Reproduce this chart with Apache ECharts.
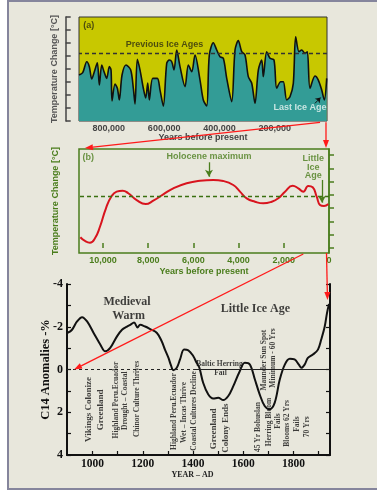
<!DOCTYPE html>
<html><head><meta charset="utf-8">
<script src="https://cdn.jsdelivr.net/npm/echarts@6/dist/echarts.min.js"></script>
<style>html,body{margin:0;padding:0;background:#fff;}#c{width:377px;height:493px;}</style>
</head><body><div id="c"></div>
<script>
// ---------- Panel (a): last ~900,000 years ----------
const iceYears = [908000, 894500, 880000, 870600, 862000, 852500, 841700, 834400, 825800, 817400, 807700, 798300, 792100, 788500, 777700, 769300, 762100, 752300, 737900, 720900, 711500, 705300, 697000, 687200, 675300, 666600, 659400, 653600, 641300, 624700, 614900, 603000, 590700, 581300, 572600, 564300, 554500, 542600, 524500, 512500, 500200, 488300, 470200, 458300, 446000, 436600, 422100, 409800, 397900, 385900, 373600, 355600, 343600, 331700, 319400, 307400, 295500, 283200, 271300, 259300, 247000, 241300, 229000, 217000, 202600, 192800, 178300, 168900, 156600, 144700, 132700, 124100, 112100, 102400, 90400, 82100, 72300, 54300, 42300, 30000, 20600, 11900];
const iceTemp = [3.54, 3.72, 4.56, 4.18, 3.23, 3.79, 4.48, 2.77, 4.31, 3.79, 3.28, 4.18, 3.92, 1.54, 2.85, 2.52, 1.62, 3.54, 4.31, 3.92, 2.52, 1.31, 4.75, 3.92, 2.52, 1.77, 2.92, 1.62, 3.28, 3.28, 2.38, 1.15, 4.44, 4.69, 4.56, 3.92, 5.46, 4.18, 2.64, 4.31, 3.79, 5.08, 3.15, 1.62, 1.15, 5.08, 6.02, 5.46, 4.95, 4.82, 3.28, 1.48, 5.46, 6.18, 5.33, 5.08, 3.41, 2.9, 1.36, 3.92, 4.69, 3.41, 5.33, 4.82, 4.69, 2.52, 3.02, 3.02, 1.62, 1.87, 2.9, 6.48, 5.33, 5.46, 5.21, 5.33, 2.52, 3.46, 3.15, 2.38, 1.62, 3.28];
const iceRefLevel = 5.23;
const iceTickValues = [200000, 400000, 600000, 800000];

// ---------- Panel (b): Holocene ----------
const holoYears = [11000, 10796, 10575, 10354, 10133, 9867, 9615, 9394, 9128, 8881, 8509, 8111, 7774, 7332, 6889, 6296, 5708, 5119, 4677, 4235, 3938, 3642, 3274, 2907, 2535, 2243, 1947, 1606, 1358, 1137, 916, 721, 544, 398, 221, 30];
const holoTemp = [0.81, 0.53, 0.40, 0.73, 1.60, 2.99, 3.91, 4.24, 4.31, 4.12, 3.61, 3.31, 3.56, 4.04, 4.49, 4.87, 5.06, 5.12, 5.04, 4.74, 4.24, 3.74, 3.48, 3.36, 3.48, 3.74, 4.24, 4.69, 4.49, 4.24, 4.67, 4.57, 3.86, 3.24, 3.16, 3.31];
const holoRefLevel = 3.91;
const holoLabelValues = [0, 2000, 4000, 6000, 8000, 10000];
const holoTickValues = [2000, 4000, 6000, 8000, 10000];

// ---------- Panel (c): C14 anomalies, AD ----------
const adYears = [900, 918, 938, 958, 978, 1004, 1031, 1050, 1070, 1097, 1117, 1137, 1150, 1165, 1179, 1189, 1209, 1229, 1256, 1275, 1288, 1302, 1312, 1321, 1335, 1348, 1364, 1381, 1401, 1414, 1425, 1440, 1460, 1480, 1500, 1520, 1540, 1560, 1583, 1606, 1626, 1646, 1665, 1685, 1705, 1725, 1745, 1765, 1785, 1804, 1821, 1831, 1844, 1857, 1877, 1897, 1910, 1924, 1933, 1941];
const c14 = [-1.71, -1.86, -2.25, -2.45, -2.25, -1.71, -1.16, -0.85, -1.01, -1.55, -1.86, -2.01, -2.09, -2.20, -1.97, -2.09, -2.01, -1.89, -1.71, -1.32, -0.93, -0.54, -0.19, 0.03, -0.08, -0.47, -0.93, -0.90, -0.62, -0.31, -0.08, 0.62, 1.16, 1.36, 1.32, 1.43, 1.24, 0.78, 0.15, -0.31, -0.23, 0.47, 1.16, 1.71, 1.86, 1.55, 0.47, -0.23, -0.50, -0.47, -0.23, -0.08, -0.23, -0.54, -0.70, -0.93, -1.40, -2.01, -2.64, -3.07];
const adLabelValues = [1000, 1200, 1400, 1600, 1800];
const adTickValues = [1000, 1100, 1200, 1300, 1400, 1500, 1600, 1700, 1800, 1900];
const c14LabelValues = [-4, -2, 0, 2, 4];

// ---------- Annotation texts (data coordinates) ----------
const notesA = [['(a)', 893000, 7.38], ['Previous Ice Ages', 598600, 5.92]];
const notesAWhite = [['Last Ice Age', 108500, 1.05]];
const notesB = [['(b)', 10900, 6.8], ['Holocene maximum', 5310, 6.85], ['Little', 695, 6.75], ['Ice', 695, 6.07], ['Age', 695, 5.42]];
const notesCBig = [['Medieval', 1137, -3.17], ['Warm', 1143, -2.50], ['Little Ice Age', 1648, -2.82]];
const notesCVertBig = [['Vikings Colonize', 983, 1.87], ['Greenland', 1033, 1.89], ['Greenland', 1482, 2.78], ['Colony Ends', 1529, 2.74]];
const notesCVertSmall = [['Highland Peru.Ecuador', 1093, 1.43], ['Drought – Coastal', 1129, 1.46], ['Chinor Culture Thrives', 1175, 1.38], ['Highland Peru.Ecuador', 1324, 1.97], ['Wet – Incas Thrive', 1365, 2.01], ['Coastal Cultures Decline', 1405, 1.94], ['45 Yr Bohuslan', 1658, 2.69], ['Maunder Sun Spot', 1681, -0.44], ['Herring Bloom', 1701, 2.46], ['Minimum - 60 Yrs', 1720, -0.54], ['Fails', 1740, 2.41], ['Blooms 62 Yrs', 1775, 2.52], ['Fails', 1815, 2.55], ['70 Yrs', 1852, 2.68]];
const notesCSmall = [['Baltic Herring', 1505, -0.26], ['Fail', 1509, 0.18]];

// Connector arrows: [fromGrid, fromPoint, toGrid, toPoint]
const connectors = [
  [0, [36000, -0.1], 1, [10796, 7.52]],
  [0, [14500, -0.1], 1, [133, 7.52]],
  [1, [1137, -0.45], 2, [926, 0]],
  [1, [110, -0.38], 2, [1935, -3.25]]
];

const SANS = 'Liberation Sans, Arial, sans-serif';
const SERIF = 'Liberation Serif, Times New Roman, serif';
const GREEN = '#4a7d1c';
const GRAYTXT = '#444444';
const comma = v => Math.round(v).toLocaleString('en-US');
const plain = v => String(Math.round(v));
const zip = (a, b) => a.map((x, i) => [x, b[i]]);

function textSeries(gi, items, lab) {
  return {
    type: 'scatter', xAxisIndex: gi, yAxisIndex: gi, symbolSize: 0, silent: true, z: 6,
    label: Object.assign({show: true, position: 'inside', formatter: '{b}'}, lab),
    data: items.map(t => ({name: t[0], value: [t[1], t[2]]}))
  };
}

const chart = echarts.init(document.getElementById('c'));
const frame = {id: 'frame', type: 'rect', z: -100, silent: true,
  shape: {x: 8, y: 1, width: 420, height: 488},
  style: {fill: '#e8e7dc', stroke: '#85859c', lineWidth: 2}};

const option = {
  backgroundColor: '#ffffff',
  animation: false,
  grid: [
    {left: 79, top: 17, width: 248, height: 104, show: true, backgroundColor: '#c8c800', borderColor: '#333', borderWidth: 1},
    {left: 79, top: 149, width: 250, height: 104, show: true, backgroundColor: 'transparent', borderColor: GREEN, borderWidth: 1.5},
    {left: 67, top: 284, width: 263, height: 171, show: false}
  ],
  xAxis: [
    {gridIndex: 0, type: 'value', inverse: true, min: 10850, max: 908000,
      axisLine: {show: false}, splitLine: {show: false},
      axisTick: {inside: true, length: 4, customValues: iceTickValues, lineStyle: {color: '#333'}},
      axisLabel: {customValues: iceTickValues, formatter: comma, color: GRAYTXT, fontFamily: SANS, fontWeight: 'bold', fontSize: 9, margin: 3},
      name: 'Years before present', nameLocation: 'middle', nameGap: 12.5, nameMoveOverlap: false,
      nameTextStyle: {color: GRAYTXT, fontFamily: SANS, fontWeight: 'bold', fontSize: 9}},
    {gridIndex: 1, type: 'value', inverse: true, min: 0, max: 11060,
      axisLine: {show: false}, splitLine: {show: false},
      axisTick: {inside: true, length: 5, customValues: holoTickValues, lineStyle: {color: GREEN, width: 1.5}},
      axisLabel: {customValues: holoLabelValues, formatter: comma, color: GREEN, fontFamily: SANS, fontWeight: 'bold', fontSize: 9, margin: 3},
      name: 'Years before present', nameLocation: 'middle', nameGap: 14, nameMoveOverlap: false,
      nameTextStyle: {color: GREEN, fontFamily: SANS, fontWeight: 'bold', fontSize: 9}},
    {gridIndex: 2, type: 'value', min: 898, max: 1945,
      axisLine: {show: true, onZero: false, lineStyle: {color: '#111', width: 2}}, splitLine: {show: false},
      axisTick: {inside: true, length: 4, customValues: adTickValues, lineStyle: {color: '#111', width: 1.2}},
      axisLabel: {customValues: adLabelValues, formatter: plain, color: '#111', fontFamily: SERIF, fontWeight: 'bold', fontSize: 11.5, margin: 3},
      name: 'YEAR – AD', nameLocation: 'middle', nameGap: 16, nameMoveOverlap: false,
      nameTextStyle: {color: '#222', fontFamily: SERIF, fontWeight: 'bold', fontSize: 8, padding: [0, 12, 0, 0]}}
  ],
  yAxis: [
    {gridIndex: 0, type: 'value', min: 0, max: 8, interval: 1, offset: 13.3,
      axisLine: {show: true, lineStyle: {color: '#444', width: 1.5}}, splitLine: {show: false},
      axisTick: {show: true, inside: true, length: 5, lineStyle: {color: '#444', width: 1.5}},
      axisLabel: {show: false},
      name: 'Temperature Change [°C]', nameLocation: 'middle', nameGap: 7, nameMoveOverlap: false,
      nameTextStyle: {color: '#555', fontFamily: SANS, fontWeight: 'bold', fontSize: 9}},
    {gridIndex: 1, type: 'value', min: -0.376, max: 7.45, offset: 12.3,
      axisLine: {show: true, lineStyle: {color: GREEN, width: 1.5}}, splitLine: {show: false},
      axisTick: {show: true, inside: true, length: 5, customValues: [0, 1, 2, 3, 4, 5, 6, 7], lineStyle: {color: GREEN, width: 1.5}},
      axisLabel: {show: false},
      name: 'Temperature Change [°C]', nameLocation: 'middle', nameGap: 7, nameMoveOverlap: false,
      nameTextStyle: {color: GREEN, fontFamily: SANS, fontWeight: 'bold', fontSize: 9}},
    {gridIndex: 2, type: 'value', min: -4, max: 4, interval: 1, inverse: true,
      axisLine: {show: true, onZero: false, lineStyle: {color: '#111', width: 2}}, splitLine: {show: false},
      axisTick: {show: true, inside: true, length: 4, lineStyle: {color: '#111', width: 1.2}},
      axisLabel: {customValues: c14LabelValues, color: '#111', fontFamily: SERIF, fontWeight: 'bold', fontSize: 12, margin: 4},
      name: 'C14 Anomalies -%', nameLocation: 'middle', nameGap: 15, nameMoveOverlap: false,
      nameTextStyle: {color: '#111', fontFamily: SERIF, fontWeight: 'bold', fontSize: 12.5}},
    {gridIndex: 2, type: 'value', min: -4, max: 4, interval: 1, inverse: true, position: 'right',
      axisLine: {show: true, onZero: false, lineStyle: {color: '#111', width: 2}}, splitLine: {show: false},
      axisTick: {show: true, inside: true, length: 4, lineStyle: {color: '#111', width: 1.2}},
      axisLabel: {show: false}}
  ],
  series: [
    {type: 'line', xAxisIndex: 0, yAxisIndex: 0, data: zip(iceYears, iceTemp), symbol: 'none', smooth: 0.3,
      lineStyle: {color: '#111', width: 1.6}, areaStyle: {color: '#339c96', opacity: 1}, z: 3,
      markLine: {silent: true, symbol: 'none', label: {show: false},
        data: [
          {yAxis: iceRefLevel, lineStyle: {color: '#333', type: [4, 3], width: 1.3}},
          [{coord: [54300, 1.36], symbol: 'none'}, {coord: [34000, 1.80], symbol: 'arrow', symbolSize: 5, lineStyle: {color: '#111', type: 'solid', width: 1}}]
        ]}},
    textSeries(0, notesA, {color: '#2e2e10', fontFamily: SANS, fontWeight: 'bold', fontSize: 9}),
    textSeries(0, notesAWhite, {color: '#eef7f5', fontFamily: SANS, fontWeight: 'bold', fontSize: 9}),
    {type: 'line', xAxisIndex: 1, yAxisIndex: 1, data: zip(holoYears, holoTemp), symbol: 'none', smooth: true,
      lineStyle: {color: '#d8141e', width: 2}, z: 4,
      markLine: {silent: true, symbol: 'none', label: {show: false},
        data: [
          {yAxis: holoRefLevel, lineStyle: {color: '#3a7010', type: [4, 3], width: 1.3}},
          [{coord: [5310, 6.45], symbol: 'none'}, {coord: [5310, 5.36], symbol: 'arrow', symbolSize: [6, 7], lineStyle: {color: GREEN, type: 'solid', width: 1.3}}],
          [{coord: [310, 5.12], symbol: 'none'}, {coord: [310, 3.41], symbol: 'arrow', symbolSize: [6, 7], lineStyle: {color: GREEN, type: 'solid', width: 1.3}}]
        ]}},
    textSeries(1, notesB, {color: GREEN, fontFamily: SANS, fontWeight: 'bold', fontSize: 9}),
    {type: 'line', xAxisIndex: 2, yAxisIndex: 2, data: zip(adYears, c14), symbol: 'none', smooth: 0.35,
      lineStyle: {color: '#111', width: 2}, z: 4,
      markLine: {silent: true, symbol: 'none', label: {show: false},
        data: [
          [{coord: [898, 0], lineStyle: {color: '#222', type: [3, 3], width: 1}}, {coord: [1400, 0]}],
          [{coord: [1400, 0], lineStyle: {color: '#222', type: 'solid', width: 1}}, {coord: [1945, 0]}]
        ]}},
    textSeries(2, notesCBig, {color: '#111', fontFamily: SERIF, fontWeight: 'bold', fontSize: 12}),
    textSeries(2, notesCVertBig, {color: '#111', fontFamily: SERIF, fontWeight: 'bold', fontSize: 9, rotate: 90}),
    textSeries(2, notesCVertSmall, {color: '#111', fontFamily: SERIF, fontWeight: 'bold', fontSize: 7.5, rotate: 90}),
    textSeries(2, notesCSmall, {color: '#111', fontFamily: SERIF, fontWeight: 'bold', fontSize: 7.5})
  ],
  graphic: [frame]
};
// left-align the "(a)" and "(b)" tags
option.series[1].data[0].label = {align: 'left'};
option.series[4].data[0].label = {align: 'left'};

chart.setOption(option);

// connector arrows between panels, placed through the grids' scales
const els = [frame];
connectors.forEach((c, i) => {
  const p0 = chart.convertToPixel({gridIndex: c[0]}, c[1]);
  const p1 = chart.convertToPixel({gridIndex: c[2]}, c[3]);
  const dx = p1[0] - p0[0], dy = p1[1] - p0[1];
  const len = Math.hypot(dx, dy), ux = dx / len, uy = dy / len;
  const L = 8, W = 3;
  const bx = p1[0] - ux * L, by = p1[1] - uy * L;
  els.push({id: 'ln' + i, type: 'line', z: 100, silent: true,
    shape: {x1: p0[0], y1: p0[1], x2: bx, y2: by}, style: {stroke: '#ff1a1a', lineWidth: 1.3}});
  els.push({id: 'ah' + i, type: 'polygon', z: 100, silent: true,
    shape: {points: [[p1[0], p1[1]], [bx - uy * W, by + ux * W], [bx + uy * W, by - ux * W]]},
    style: {fill: '#ff1a1a'}});
});
chart.setOption({graphic: els});
</script></body></html>
